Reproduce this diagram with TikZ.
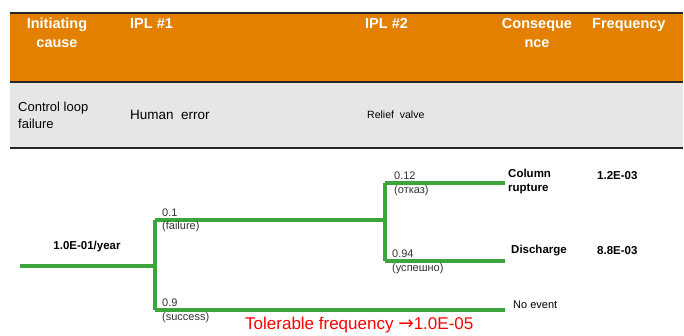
\documentclass[tikz,border=0pt]{standalone}
\usepackage{fontspec}
\setmainfont{Liberation Sans}
\newfontfamily\symfont{DejaVu Sans}
\usetikzlibrary{calc}
\definecolor{hdrorange}{RGB}{227,128,0}
\definecolor{rowgray}{RGB}{230,230,230}
\definecolor{treegreen}{RGB}{60,165,60}
\tikzset{
    hdr/.style =    {text=white,
                    font=\fontsize{14.5}{19}\selectfont\bfseries,
                    align=center,
                    anchor=north,
                    inner sep=0pt},
    cell/.style =   {text=black,
                    anchor=west,
                    inner sep=0pt},
    branch/.style = {draw=treegreen,
                    line width=3.2pt,
                    line join=round},
    prob/.style =   {text=black!80,
                    font=\fontsize{11}{12}\selectfont,
                    inner sep=1pt},
    outcome/.style ={text=black,
                    font=\fontsize{11.5}{14}\selectfont\bfseries,
                    align=left,
                    anchor=west,
                    inner sep=0pt}}

\begin{document}
\begin{tikzpicture}[x=1pt,y=-1pt]
        \useasboundingbox (0,0) rectangle (684,336);
        % table
        \fill[hdrorange] (10,13) rectangle (683,82);
        \fill[rowgray]   (10,82) rectangle (683,148);
        \draw[black!85,line width=1.2pt] (10,13) -- (683,13);
        \draw[black!85,line width=1.2pt] (10,82) -- (683,82);
        \draw[black!85,line width=1.2pt] (10,148) -- (683,148);

        \node[hdr]  (h1) at (57,18)          {Initiating\\cause};
        \node[hdr,anchor=north west] (h2) at (130,18) {IPL \#1};
        \node[hdr,anchor=north west] (h3) at (365,18) {IPL \#2};
        \node[hdr]  (h4) at (537,18)         {Conseque\\nce};
        \node[hdr,anchor=north west] (h5) at (592,18) {Frequency};

        \node[cell,align=left,font=\fontsize{13}{17}\selectfont] (r1) at (18,115) {Control loop\\failure};
        \node[cell,font=\fontsize{13.5}{16}\selectfont] (r2) at (130,115) {Human\ \ error};
        \node[cell,font=\fontsize{10.5}{12}\selectfont] (r3) at (367,115) {Relief\ \ valve};

        % event tree
        \coordinate (start) at (20,266);
        \coordinate (n1)  at (155,266);
        \coordinate (n1u) at (155,220);
        \coordinate (n1d) at (155,310);
        \coordinate (n2)  at (385,220);
        \coordinate (n2u) at (385,183);
        \coordinate (n2d) at (385,261);
        \coordinate (e1)  at (505,183);
        \coordinate (e2)  at (505,261);
        \coordinate (e3)  at (505,310);

        \path[branch] (start) -- (n1)
                      (n1u) -- (n1d)
                      (n1u) -- (n2)
                      (n1d) -- (e3)
                      (n2u) -- (n2d)
                      (n2u) -- (e1)
                      (n2d) -- (e2);

        \node[outcome,anchor=center] (init) at (87,247) {1.0E-01/year};

        \node[prob,anchor=south west] (p1)  at (161,218) {0.1};
        \node[prob,anchor=north west] (p1t) at (161,220) {(failure)};
        \node[prob,anchor=south west] (p2)  at (161,308) {0.9};
        \node[prob,anchor=north west] (p2t) at (161,311) {(success)};
        \node[prob,anchor=south west] (p3)  at (393,181) {0.12};
        \node[prob,anchor=north west] (p3t) at (393,184) {(отказ)};
        \node[prob,anchor=south west] (p4)  at (391,259) {0.94};
        \node[prob,anchor=north west] (p4t) at (391,262) {(успешно)};

        \node[outcome] (c1) at (508,182) {Column\\rupture};
        \node[outcome] (c2) at (511,251) {Discharge};
        \node[outcome,font=\fontsize{11}{13}\selectfont] (c3) at (513,305) {No event};

        \node[outcome] (f1) at (597,176) {1.2E-03};
        \node[outcome] (f2) at (597,251) {8.8E-03};

        \node[text=red,font=\fontsize{17}{19}\selectfont,anchor=west,inner sep=0pt] (tol) at (245,325)
             {Tolerable frequency {\symfont\fontsize{18.5}{19}\selectfont →}1.0E-05};
\end{tikzpicture}
\end{document}
